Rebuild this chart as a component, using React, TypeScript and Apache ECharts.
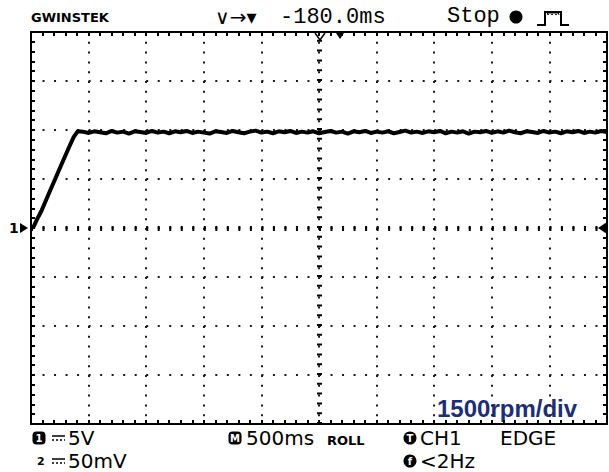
import React, { useEffect, useRef } from "react";
import * as echarts from "echarts";

// Oscilloscope: 500 ms/div horizontally (10 div), 1500 rpm/div vertically (8 div, ground at centre)
const timeMin = 0;
const timeMax = 5000;
const timeDiv = 500;
const timeSubDiv = 100;
const rpmMin = -6000;
const rpmMax = 6000;
const rpmDiv = 1500;
const rpmSubDiv = 300;

// ramp-up portion of the trace (ms, rpm)
const rampTimes = [0, 25, 50, 90, 130, 170, 210, 250, 290, 330, 370, 405];
const rampRpm = [0, 60, 250, 520, 850, 1180, 1500, 1830, 2150, 2470, 2780, 2960];

// plateau portion of the trace (ms, rpm)
const plateauTimes = [
  450, 500, 550, 600, 650, 700, 750, 800, 850, 900, 950, 1000, 1050, 1100, 1150, 1200,
  1250, 1300, 1350, 1400, 1450, 1500, 1550, 1600, 1650, 1700, 1750, 1800, 1850, 1900,
  1950, 2000, 2050, 2100, 2150, 2200, 2250, 2300, 2350, 2400, 2450, 2500, 2550, 2600,
  2650, 2700, 2750, 2800, 2850, 2900, 2950, 3000, 3050, 3100, 3150, 3200, 3250, 3300,
  3350, 3400, 3450, 3500, 3550, 3600, 3650, 3700, 3750, 3800, 3850, 3900, 3950, 4000,
  4050, 4100, 4150, 4200, 4250, 4300, 4350, 4400, 4450, 4500, 4550, 4600, 4650, 4700,
  4750, 4800, 4850, 4900, 4950, 5000,
];
const plateauRpm = [
  2950, 2910, 2960, 2930, 2900, 2970, 2920, 2950, 2890, 2960, 2940, 2910, 2970, 2920, 2950, 2900,
  2960, 2930, 2970, 2910, 2950, 2920, 2890, 2960, 2940, 2910, 2970, 2930, 2900, 2950,
  2980, 2920, 2950, 2900, 2960, 2930, 2970, 2910, 2950, 2920, 2960, 2900, 2940, 2970,
  2920, 2950, 2890, 2960, 2930, 2970, 2910, 2950, 2920, 2960, 2900, 2940, 2980, 2920,
  2950, 2910, 2960, 2930, 2970, 2900, 2950, 2920, 2960, 2890, 2950, 2930, 2970, 2910,
  2960, 2920, 2980, 2930, 2900, 2960, 2940, 2910, 2970, 2920, 2950, 2900, 2960, 2930,
  2970, 2910, 2950, 2920, 2970, 2940,
];

const topDelay = "-180.0ms";
const statusText = "Stop";
const scaleLabel = "1500rpm/div";
const ch1Scale = "5V";
const ch2Scale = "50mV";
const timebase = "500ms";
const modeText = "ROLL";
const trigSource = "CH1";
const trigType = "EDGE";
const trigFreq = "<2Hz";

const BLACK = "#000";

// grid (dotted division lines, no border)
function gridAxis(kind: "x" | "y", dash: number[]) {
  const isX = kind === "x";
  return {
    type: "value",
    position: isX ? "bottom" : "left",
    min: isX ? timeMin : rpmMin,
    max: isX ? timeMax : rpmMax,
    interval: isX ? timeDiv : rpmDiv,
    axisLine: { show: false },
    axisTick: { show: false },
    axisLabel: { show: false },
    splitLine: { show: true, lineStyle: { color: "#1a1a1a", width: 2, type: dash, cap: "butt" } },
  };
}

// border with sub-division ticks
function borderAxis(kind: "x" | "y", position: string) {
  const isX = kind === "x";
  return {
    type: "value",
    position,
    min: isX ? timeMin : rpmMin,
    max: isX ? timeMax : rpmMax,
    interval: isX ? timeSubDiv : rpmSubDiv,
    axisLine: { show: true, onZero: false, lineStyle: { color: BLACK, width: 2 } },
    axisTick: { show: true, inside: true, length: 4, lineStyle: { color: BLACK, width: 2 } },
    axisLabel: { show: false },
    splitLine: { show: false },
  };
}

export default function App() {
  const ref = useRef<HTMLDivElement>(null);

  useEffect(() => {
    if (!ref.current) return;
    const chart = echarts.init(ref.current, null, { renderer: "svg" });

    const trace: [number, number][] = [];
    rampTimes.forEach((t, i) => trace.push([t, rampRpm[i]]));
    plateauTimes.forEach((t, i) => trace.push([t, plateauRpm[i]]));

    const txt = (x: number, y: number, text: string, font: string, fill = BLACK, align = "left") => ({
      type: "text",
      x,
      y,
      silent: true,
      style: { text, font, fill, textAlign: align, textVerticalAlign: "middle" },
    });

    const monoTop = "22px 'Liberation Mono', 'DejaVu Sans Mono', monospace";
    const bottomFont = "20px 'DejaVu Sans', sans-serif";

    const dcSymbol = (x: number, y: number) => [
      { type: "line", silent: true, shape: { x1: x, y1: y - 2, x2: x + 13, y2: y - 2 }, style: { stroke: BLACK, lineWidth: 1.5 } },
      { type: "line", silent: true, shape: { x1: x, y1: y + 2, x2: x + 13, y2: y + 2 }, style: { stroke: BLACK, lineWidth: 1.5, lineDash: [2, 2] } },
    ];
    const roundIcon = (cx: number, cy: number, letter: string, square: boolean) => [
      square
        ? { type: "rect", silent: true, shape: { x: cx - 6.5, y: cy - 6.5, width: 13, height: 13, r: 4 }, style: { fill: BLACK } }
        : { type: "circle", silent: true, shape: { cx, cy, r: 6.5 }, style: { fill: BLACK } },
      txt(cx, cy + 0.5, letter, "bold 10px 'DejaVu Sans', sans-serif", "#fff", "center"),
    ];

    const graphic: any[] = [
      // header
      txt(31, 17, "GWINSTEK", "bold 13px 'DejaVu Sans', sans-serif"),
      txt(215, 17, "∨→▾", "20px 'DejaVu Sans', sans-serif"),
      txt(280, 17, topDelay, monoTop),
      txt(447, 16, statusText, monoTop),
      { type: "circle", silent: true, shape: { cx: 516, cy: 17, r: 6.5 }, style: { fill: BLACK } },
      {
        type: "polyline",
        silent: true,
        shape: { points: [[537, 25], [545, 25], [545, 12], [561, 12], [561, 25], [569, 25]] },
        style: { stroke: BLACK, lineWidth: 2, fill: null },
      },
      {
        type: "polyline",
        silent: true,
        shape: { points: [[547, 12], [548, 15], [550, 12], [552, 15], [554, 12], [556, 15], [558, 12], [559, 15]] },
        style: { stroke: BLACK, lineWidth: 1, fill: null },
      },
      // trigger position markers on top edge
      { type: "polyline", silent: true, shape: { points: [[315, 33], [320, 40], [325, 33]] }, style: { stroke: BLACK, lineWidth: 1.5, fill: null } },
      { type: "polygon", silent: true, shape: { points: [[336, 33], [344, 33], [340, 39]] }, style: { fill: BLACK } },
      // channel 1 ground marker (left) and trigger level (right)
      txt(9, 228, "1", "bold 14px 'DejaVu Sans', sans-serif"),
      { type: "polygon", silent: true, shape: { points: [[20, 223], [28, 228], [20, 233]] }, style: { fill: BLACK } },
      { type: "polygon", silent: true, shape: { points: [[598, 228], [607, 222], [607, 234]] }, style: { fill: BLACK } },
      // scale label inside plot
      txt(437, 408, scaleLabel, "bold 24px 'Liberation Sans', Arial, sans-serif", "#1d2e78"),
      // bottom status rows
      ...roundIcon(39, 438, "1", true),
      ...dcSymbol(52, 438),
      txt(68, 438, ch1Scale, bottomFont),
      txt(37, 461, "2", "bold 11px 'DejaVu Sans', sans-serif"),
      ...dcSymbol(52, 461),
      txt(68, 461, ch2Scale, bottomFont),
      ...roundIcon(235, 438, "M", true),
      txt(246, 438, timebase, bottomFont),
      txt(327, 440, modeText, "bold 13px 'DejaVu Sans', sans-serif"),
      ...roundIcon(410, 438, "T", false),
      txt(420, 438, trigSource, bottomFont),
      txt(500, 438, trigType, bottomFont),
      ...roundIcon(410, 461, "f", false),
      txt(420, 461, trigFreq, bottomFont),
    ];

    chart.setOption({
      animation: false,
      backgroundColor: "#fff",
      grid: { left: 31, right: 2, top: 32, bottom: 48, show: false },
      xAxis: [
        gridAxis("x", [2, 7.8]),
        borderAxis("x", "bottom"),
        borderAxis("x", "top"),
      ],
      yAxis: [
        gridAxis("y", [2, 9.52]),
        borderAxis("y", "left"),
        borderAxis("y", "right"),
      ],
      series: [
        {
          type: "line",
          data: trace,
          showSymbol: false,
          symbol: "none",
          xAxisIndex: 0,
          yAxisIndex: 0,
          lineStyle: { color: BLACK, width: 4, join: "round" },
          z: 5,
          markLine: {
            silent: true,
            symbol: "none",
            label: { show: false },
            data: [
              { yAxis: 0, lineStyle: { color: BLACK, width: 5, type: [2, 9.52] } },
              { xAxis: 2500, lineStyle: { color: BLACK, width: 5, type: [2, 7.8] } },
            ],
          },
        },
      ],
      graphic,
    });

    return () => chart.dispose();
  }, []);

  return (
    <div
      ref={ref}
      style={{ position: "absolute", left: 0, top: 0, width: 609, height: 472, background: "#fff" }}
    />
  );
}
